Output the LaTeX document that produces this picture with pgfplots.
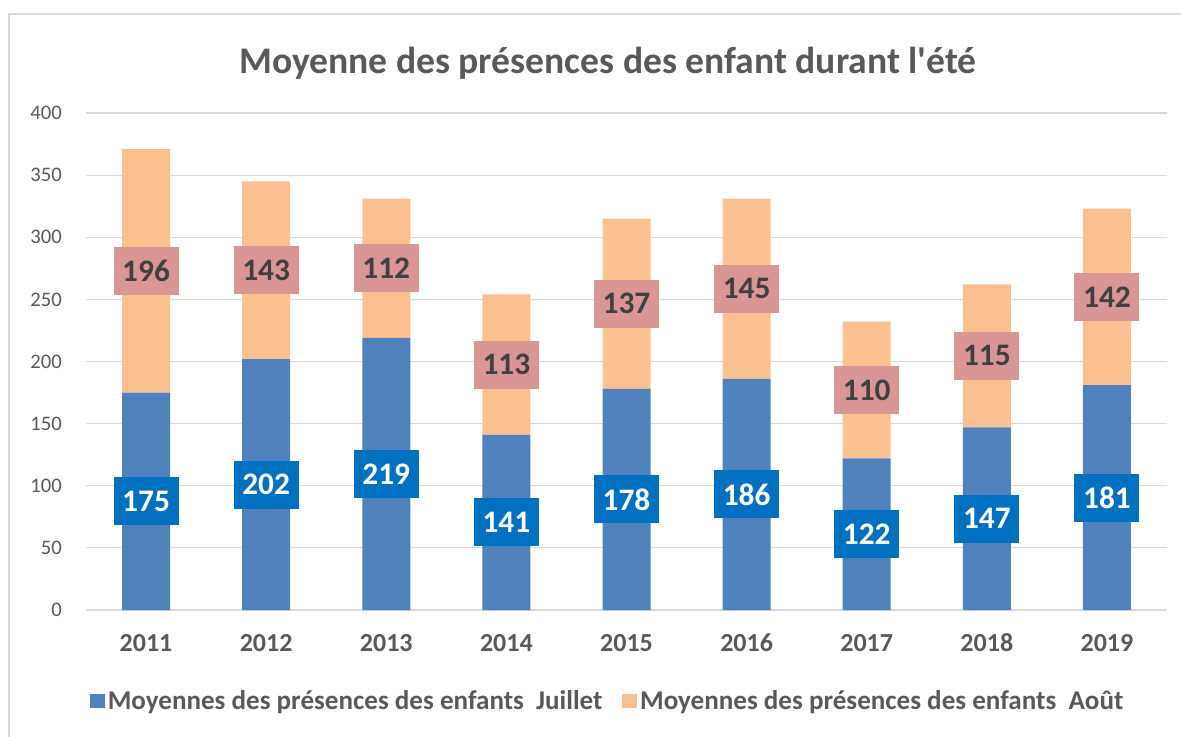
\documentclass[border=0pt]{standalone}
\usepackage{fontspec}
\setmainfont{Carlito}[Ligatures=TeXOff]
\usepackage{pgfplots}
\usepackage{pgfplotstable}
\pgfplotsset{compat=1.18}
\definecolor{barblue}{HTML}{4F81BD}
\definecolor{barorange}{HTML}{FAC090}
\definecolor{lblblue}{HTML}{0070C0}
\definecolor{lblpink}{HTML}{D99694}
\definecolor{txtgray}{HTML}{595959}
\definecolor{lbltxt}{HTML}{404040}
\definecolor{gridgray}{HTML}{D9D9D9}

\pgfplotstableread{
i jul aou
0 175 196
1 202 143
2 219 112
3 141 113
4 178 137
5 186 145
6 122 110
7 147 115
8 181 142
}\data

\begin{document}
\begin{tikzpicture}
\begin{axis}[
  name=ax, at={(0,0)}, anchor=south west,
  scale only axis, width=810.75pt, height=372.75pt,
  xmin=-0.5, xmax=8.5, ymin=0, ymax=400,
  ybar stacked, bar width=36pt,
  xtick={0,...,8},
  xticklabels={2011,2012,2013,2014,2015,2016,2017,2018,2019},
  ytick={0,50,...,400},
  major tick length=0pt,
  tick style={draw=none},
  axis line style={draw=none},
  ymajorgrids, grid style={draw=gridgray, line width=0.9pt},
  /pgf/number format/assume math mode=true,
  yticklabel style={font=\fontsize{15.5}{16}\selectfont, text=txtgray, anchor=east, inner sep=0pt, xshift=-18pt},
  xticklabel style={font=\bfseries\fontsize{19.5}{20}\selectfont, text=txtgray, anchor=center, inner sep=0pt, yshift=-24.75pt},
  legend style={at={(0.4830,-0.1831)}, anchor=center, draw=none, fill=none,
    font=\bfseries\fontsize{20.3}{21}\selectfont, text=txtgray,
    /tikz/every even column/.append style={column sep=13pt}},
  legend columns=2,
  legend image code/.code={\fill[#1,draw=none] (0pt,-5.6pt) rectangle (11.25pt,5.6pt);},
  clip=false,
]
\addplot[fill=barblue, draw=none] table[x=i, y=jul] {\data};
\addlegendentry{Moyennes des présences des enfants\ \ Juillet}
\addplot[fill=barorange, draw=none] table[x=i, y=aou] {\data};
\addlegendentry{Moyennes des présences des enfants\ \ Août}
\end{axis}

\begin{axis}[
  at={(0,0)}, anchor=south west,
  scale only axis, width=810.75pt, height=372.75pt,
  xmin=-0.5, xmax=8.5, ymin=0, ymax=400,
  hide axis, clip=false,
  /pgf/number format/assume math mode=true,
]
\addplot[draw=none, mark=none, nodes near coords, point meta=explicit,
  nodes near coords align=center,
  every node near coord/.append style={anchor=center, fill=lblblue, text=white,
    font=\bfseries\fontsize{23.5}{24}\selectfont, minimum width=48.75pt, minimum height=36pt, inner sep=0pt}]
  table[x=i, y expr=\thisrow{jul}/2, meta=jul] {\data};
\addplot[draw=none, mark=none, nodes near coords, point meta=explicit,
  nodes near coords align=center,
  every node near coord/.append style={anchor=center, fill=lblpink, text=lbltxt,
    font=\bfseries\fontsize{23.5}{24}\selectfont, minimum width=48.75pt, minimum height=36pt, inner sep=0pt}]
  table[x=i, y expr=\thisrow{jul}+\thisrow{aou}/2, meta=aou] {\data};
\end{axis}

\node[font=\bfseries\fontsize{28.2}{29}\selectfont, text=txtgray] at ([shift={(391.5pt,410.25pt)}]ax.south west) {Moyenne des présences des enfant durant l'été};

\pgfresetboundingbox
\useasboundingbox ([shift={(-64.5pt,-94.5pt)}]ax.south west) rectangle ([shift={(821.25pt,457.5pt)}]ax.south west);
\draw[gridgray, line width=0.9pt] ([shift={(-57.75pt,-100pt)}]ax.south west) rectangle ([shift={(830pt,447pt)}]ax.south west);
\end{tikzpicture}
\end{document}
